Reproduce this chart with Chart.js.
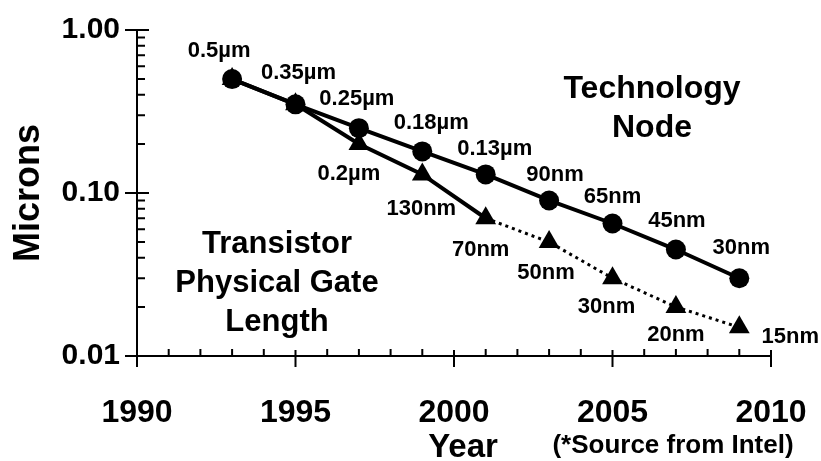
<!DOCTYPE html>
<html>
<head>
<meta charset="utf-8">
<script src="https://cdn.jsdelivr.net/npm/chart.js@4.4.0/dist/chart.umd.min.js"></script>
<style>
    body { margin: 0; background: #fff; }
    #wrap { width: 821px; height: 461px; position: relative; }
</style>
</head>
<body>
<div id="wrap"><canvas id="myChart"></canvas></div>
<script>
// Données
const years = [1993, 1995, 1997, 1999, 2001, 2003, 2005, 2007, 2009];
const nodeValues = [0.5, 0.35, 0.25, 0.18, 0.13, 0.09, 0.065, 0.045, 0.03];
const gateValues = [0.5, 0.35, 0.2, 0.13, 0.07, 0.05, 0.03, 0.02, 0.015];
const nodeLabels = ['0.5µm', '0.35µm', '0.25µm', '0.18µm', '0.13µm', '90nm', '65nm', '45nm', '30nm'];
const gateLabels = ['', '', '0.2µm', '130nm', '70nm', '50nm', '30nm', '20nm', '15nm'];
const xTicks = [1990, 1995, 2000, 2005, 2010];
const yTicks = [0.01, 0.1, 1];
const dottedFrom = 2001;

const FONT = "'Liberation Sans', Arial, sans-serif";

// Décalages des étiquettes (pixels) par point
const nodeOffsets = [[-13, -28], [3, -31], [-2, -29], [9, -28], [9, -25], [6, -26], [0, -27], [1, -29], [2, -30]];
const gateOffsets = [[0, 0], [0, 0], [-10, 30], [-1, 35], [-5, 32], [-3, 31], [-6, 29], [0, 28], [51, 10]];

// Petites graduations, textes et étiquettes
const decorPlugin = {
    id: 'decor',
    afterDraw(chart) {
        const ctx = chart.ctx;
        const xs = chart.scales.x;
        const ys = chart.scales.y;
        const area = chart.chartArea;
        ctx.save();
        ctx.strokeStyle = '#000';
        ctx.lineWidth = 2;
        ctx.beginPath();
        for (let yr = 1990; yr <= 2010; yr++) {
            const px = xs.getPixelForValue(yr);
            if (yr % 5 === 0) {
                ctx.moveTo(px, area.bottom - 6);
                ctx.lineTo(px, area.bottom + 11);
            } else {
                ctx.moveTo(px, area.bottom);
                ctx.lineTo(px, area.bottom - 7);
            }
        }
        [0.01, 0.1].forEach(base => {
            for (let k = 2; k <= 9; k++) {
                const py = ys.getPixelForValue(base * k);
                ctx.moveTo(area.left, py);
                ctx.lineTo(area.left + 8, py);
            }
        });
        yTicks.forEach(v => {
            const py = ys.getPixelForValue(v);
            ctx.moveTo(area.left - 12, py);
            ctx.lineTo(area.left + 12, py);
        });
        ctx.stroke();

        // étiquettes des points
        ctx.fillStyle = '#000';
        ctx.textAlign = 'center';
        ctx.textBaseline = 'middle';
        ctx.font = 'bold 22px ' + FONT;
        const nodeMeta = chart.getDatasetMeta(0).data;
        const gateMeta = chart.getDatasetMeta(1).data;
        nodeLabels.forEach((t, i) => {
            const p = nodeMeta[i];
            ctx.fillText(t, p.x + nodeOffsets[i][0], p.y + nodeOffsets[i][1]);
        });
        gateLabels.forEach((t, i) => {
            if (!t) return;
            const p = gateMeta[i];
            ctx.fillText(t, p.x + gateOffsets[i][0], p.y + gateOffsets[i][1]);
        });

        // textes
        ctx.textBaseline = 'alphabetic';
        ctx.font = 'bold 32px ' + FONT;
        ctx.fillText('Technology', area.left + 515, 98);
        ctx.fillText('Node', area.left + 515, 137);
        ctx.font = 'bold 31px ' + FONT;
        ctx.fillText('Transistor', area.left + 140, 253);
        ctx.fillText('Physical Gate', area.left + 140, 292);
        ctx.fillText('Length', area.left + 140, 331);
        ctx.font = 'bold 33px ' + FONT;
        ctx.fillText('Year', area.left + 326, 457);
        ctx.font = 'bold 26px ' + FONT;
        ctx.fillText('(*Source from Intel)', area.left + 536, 453);
        ctx.restore();
    }
};

const ctx = document.getElementById('myChart').getContext('2d');
const myChart = new Chart(ctx, {
    type: 'line',
    data: {
        datasets: [{
            label: 'Technology Node',
            data: years.map((y, i) => ({ x: y, y: nodeValues[i] })),
            borderColor: '#000',
            backgroundColor: '#000',
            borderWidth: 4,
            pointStyle: 'circle',
            pointRadius: 10,
            pointBorderWidth: 0
        }, {
            label: 'Transistor Physical Gate Length',
            data: years.map((y, i) => ({ x: y, y: gateValues[i] })),
            borderColor: '#000',
            backgroundColor: '#000',
            borderWidth: 4,
            pointStyle: 'triangle',
            pointRadius: 12,
            pointBorderWidth: 0,
            segment: {
                borderDash: c => c.p0.parsed.x >= dottedFrom ? [3, 4] : undefined,
                borderWidth: c => c.p0.parsed.x >= dottedFrom ? 3 : 4
            }
        }]
    },
    options: {
        responsive: true,
        maintainAspectRatio: false,
        animation: false,
        layout: { padding: { top: 30, right: 50, left: 0, bottom: 0 } },
        plugins: {
            legend: { display: false },
            tooltip: { enabled: false }
        },
        scales: {
            x: {
                type: 'linear',
                min: 1990,
                max: 2010,
                afterBuildTicks: s => { s.ticks = xTicks.map(v => ({ value: v })); },
                afterFit: s => { s.height = 105; s.paddingLeft = 0; s.paddingRight = 0; },
                grid: { display: false, drawTicks: false },
                border: { display: true, color: '#000', width: 2 },
                ticks: {
                    color: '#000',
                    padding: 38,
                    maxRotation: 0,
                    autoSkip: false,
                    font: { family: FONT, size: 32, weight: 'bold' },
                    callback: v => String(v)
                }
            },
            y: {
                type: 'logarithmic',
                min: 0.01,
                max: 1,
                afterBuildTicks: s => { s.ticks = yTicks.map(v => ({ value: v })); },
                afterFit: s => { s.width = 137; s.paddingTop = 0; s.paddingBottom = 0; },
                grid: { display: false, drawTicks: false },
                border: { display: true, color: '#000', width: 2 },
                title: {
                    display: true,
                    text: 'Microns',
                    color: '#000',
                    font: { family: FONT, size: 36, weight: 'bold' },
                    padding: { top: 7, bottom: 0 }
                },
                ticks: {
                    color: '#000',
                    padding: 17,
                    autoSkip: false,
                    font: { family: FONT, size: 30, weight: 'bold' },
                    callback: v => Number(v).toFixed(2)
                }
            }
        }
    },
    plugins: [decorPlugin]
});
</script>
</body>
</html>
